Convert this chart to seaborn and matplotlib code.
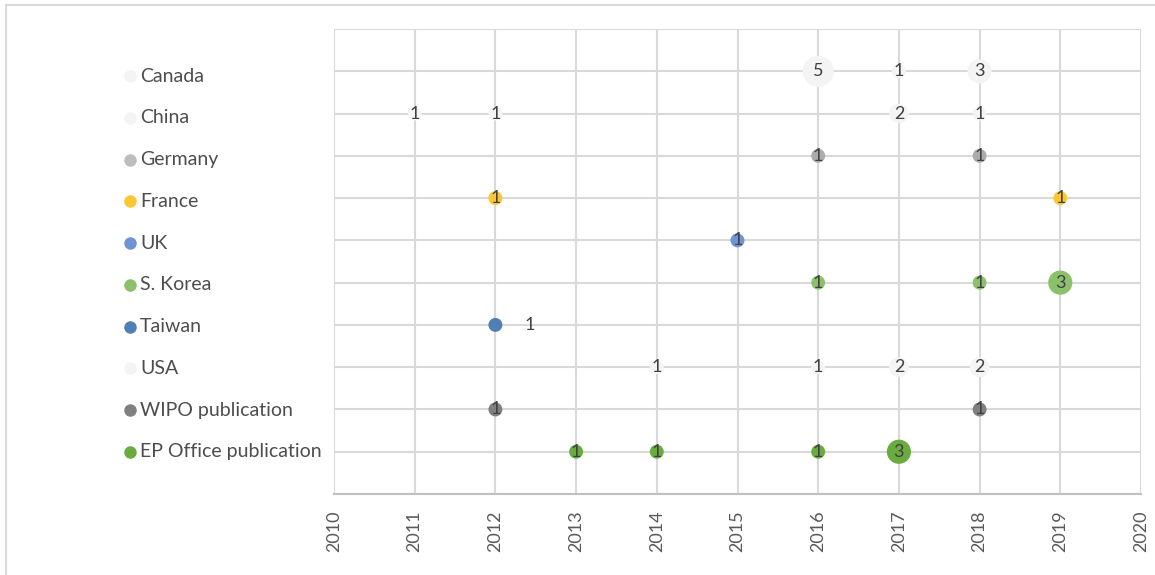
import numpy as np
import pandas as pd
import matplotlib
matplotlib.use("Agg")
import matplotlib.pyplot as plt
from matplotlib.lines import Line2D
import seaborn as sns

# Series (top to bottom) and their yearly counts
series = ["Canada", "China", "Germany", "France", "UK", "S. Korea",
          "Taiwan", "USA", "WIPO publication", "EP Office publication"]

canada_years = [2016, 2017, 2018]
canada_counts = [5, 1, 3]
china_years = [2011, 2012, 2017, 2018]
china_counts = [1, 1, 2, 1]
germany_years = [2016, 2018]
germany_counts = [1, 1]
france_years = [2012, 2019]
france_counts = [1, 1]
uk_years = [2015]
uk_counts = [1]
korea_years = [2016, 2018, 2019]
korea_counts = [1, 1, 3]
taiwan_years = [2012]
taiwan_counts = [1]
usa_years = [2014, 2016, 2017, 2018]
usa_counts = [1, 1, 2, 2]
wipo_years = [2012, 2018]
wipo_counts = [1, 1]
ep_years = [2013, 2014, 2016, 2017]
ep_counts = [1, 1, 1, 3]

year_ticks = ["2010", "2011", "2012", "2013", "2014", "2015",
              "2016", "2017", "2018", "2019", "2020"]

colors = {
    "Canada": "#f4f4f4",
    "China": "#f4f4f4",
    "Germany": "#ababab",
    "France": "#fcc732",
    "UK": "#6f93d4",
    "S. Korea": "#8cc16b",
    "Taiwan": "#4f7fb4",
    "USA": "#f4f4f4",
    "WIPO publication": "#808080",
    "EP Office publication": "#6aab40",
}
legend_colors = dict(colors)
legend_colors["Germany"] = "#bdbdbd"

per_series = {
    "Canada": (canada_years, canada_counts),
    "China": (china_years, china_counts),
    "Germany": (germany_years, germany_counts),
    "France": (france_years, france_counts),
    "UK": (uk_years, uk_counts),
    "S. Korea": (korea_years, korea_counts),
    "Taiwan": (taiwan_years, taiwan_counts),
    "USA": (usa_years, usa_counts),
    "WIPO publication": (wipo_years, wipo_counts),
    "EP Office publication": (ep_years, ep_counts),
}

rows = []
n = len(series)
for i, name in enumerate(series):
    yrs, cnts = per_series[name]
    for yr, c in zip(yrs, cnts):
        rows.append({"series": name, "year": yr, "row": n - i, "count": c})
df = pd.DataFrame(rows)

sns.set_theme(style="white")
plt.rcParams["font.family"] = ["Lato", "DejaVu Sans"]

fig = plt.figure(figsize=(11.55, 5.75), dpi=100)
W, H = 1155, 575
ax = fig.add_axes([334 / W, 1 - 494 / H, (1141 - 334) / W, (494 - 29) / H])

sns.scatterplot(data=df, x="year", y="row", hue="series", palette=colors,
                size="count", sizes=(101, 505), size_norm=(1, 5),
                linewidth=0, legend=False, ax=ax, zorder=3)

# Count labels centred on each bubble (Taiwan's sits to the right)
for _, r in df.iterrows():
    if r["series"] == "Taiwan":
        ax.annotate(str(r["count"]), (r["year"], r["row"]), xytext=(25, 0),
                    textcoords="offset points", ha="center", va="center",
                    fontsize=13, color="#404040", zorder=4)
    else:
        ax.text(r["year"], r["row"], str(r["count"]), ha="center", va="center",
                fontsize=13, color="#404040", zorder=4)

ax.set_xlim(2010, 2020)
ax.set_ylim(0, n + 1)
ax.set_xticks([int(t) for t in year_ticks])
ax.set_xticklabels(year_ticks, rotation=90, fontsize=13, color="#595959")
ax.set_yticks(np.arange(0, n + 2))
ax.set_yticklabels([])
ax.tick_params(axis="both", length=0, pad=12)
ax.grid(True, color="#d9d9d9", linewidth=1.5, zorder=0)
ax.set_axisbelow(True)
ax.set_xlabel("")
ax.set_ylabel("")
for side in ["top", "right", "left"]:
    ax.spines[side].set_visible(False)
ax.spines["bottom"].set_color("#bfbfbf")
ax.spines["bottom"].set_linewidth(1.5)

# Legend column on the left
leg_y = np.linspace(1 - 76 / H, 1 - 452 / H, n)
for name, y in zip(series, leg_y):
    fig.add_artist(Line2D([130 / W], [y], marker="o", markersize=9,
                          markerfacecolor=legend_colors[name],
                          markeredgewidth=0, linestyle="none"))
    fig.text(140 / W, y, name, ha="left", va="center", fontsize=14,
             color="#4d4d4d")

# Chart frame
fig.add_artist(Line2D([6 / W, 6 / W], [0, 1 - 5 / H], color="#d9d9d9", linewidth=1.5))
fig.add_artist(Line2D([6 / W, 1], [1 - 5 / H, 1 - 5 / H], color="#d9d9d9", linewidth=1.5))

fig.savefig("out.png", dpi=100, facecolor="white")
